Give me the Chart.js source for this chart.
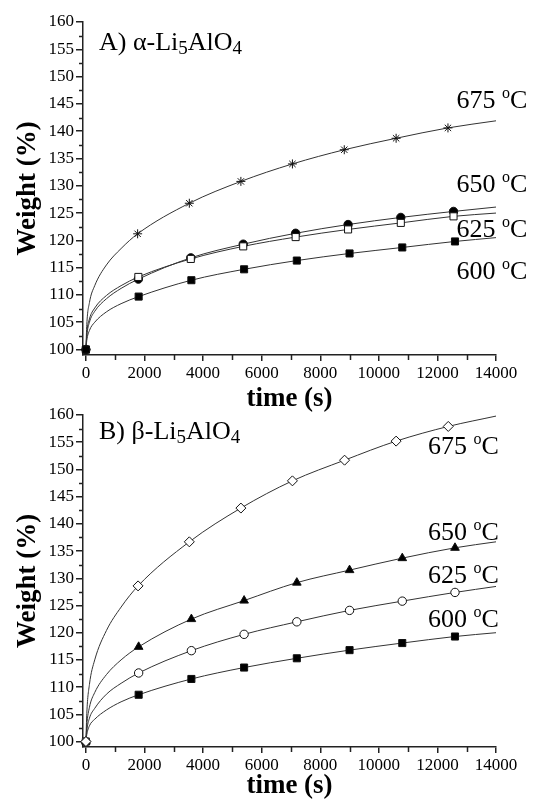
<!DOCTYPE html>
<html>
<head>
<meta charset="utf-8">
<title>Li5AlO4 weight vs time</title>
<script src="https://cdn.jsdelivr.net/npm/chart.js@4.4.1/dist/chart.umd.min.js"></script>
<style>
  html, body { margin: 0; padding: 0; background: #fff; }
  #wrap { position: relative; width: 539px; height: 802px; }
  canvas { position: absolute; left: 0; }
  #chartA { top: 0; }
  #chartB { top: 400px; }
</style>
</head>
<body>
<div id="wrap">
  <canvas id="chartA" width="539" height="420"></canvas>
  <canvas id="chartB" width="539" height="402"></canvas>
</div>
<script>
// =======================================
// DATA
// =======================================

// A) alpha-Li5AlO4 — measured points
const timeA675   = [0, 1765, 3530, 5290, 7050, 8820, 10590, 12360];
const weightA675 = [100, 121.2, 126.8, 130.8, 134.0, 136.6, 138.7, 140.6];
const timeA650   = [0, 1790, 3580, 5370, 7160, 8950, 10750, 12550];
const weightA650 = [100, 112.9, 116.8, 119.3, 121.3, 122.9, 124.2, 125.3];
const timeA625   = [0, 1790, 3580, 5370, 7160, 8950, 10750, 12550];
const weightA625 = [100, 113.3, 116.6, 118.9, 120.6, 122.0, 123.2, 124.4];
const timeA600   = [0, 1800, 3600, 5400, 7200, 9000, 10800, 12600];
const weightA600 = [100, 109.7, 112.7, 114.7, 116.3, 117.6, 118.7, 119.8];

// B) beta-Li5AlO4 — measured points
const timeB675   = [0, 1780, 3530, 5290, 7050, 8830, 10590, 12370];
const weightB675 = [100, 128.6, 136.7, 142.9, 147.9, 151.7, 155.2, 157.9];
const timeB650   = [0, 1800, 3600, 5400, 7200, 9000, 10800, 12600];
const weightB650 = [100, 117.4, 122.5, 125.9, 129.2, 131.5, 133.7, 135.6];
const timeB625   = [0, 1800, 3600, 5400, 7200, 9000, 10800, 12600];
const weightB625 = [100, 112.6, 116.7, 119.7, 122.0, 124.1, 125.8, 127.4];
const timeB600   = [0, 1800, 3600, 5400, 7200, 9000, 10800, 12600];
const weightB600 = [100, 108.6, 111.5, 113.6, 115.3, 116.8, 118.1, 119.3];

// fitted curves: early part (before first marker) and the value at 14000 s
const curveTime = [30, 120, 300, 700, 1200];
const curveEnd  = 14000;
const earlyA675 = [104.6, 108.6, 111.7, 115.5, 118.5];  const endA675 = 141.9;
const earlyA650 = [102.5, 105.0, 107.0, 109.3, 111.2];  const endA650 = 126.1;
const earlyA625 = [103.0, 105.6, 107.6, 109.9, 111.7];  const endA625 = 125.0;
const earlyA600 = [101.7, 103.5, 105.0, 106.9, 108.4];  const endA600 = 120.5;
const earlyB675 = [105.2, 110.5, 115.0, 120.4, 124.7];  const endB675 = 159.8;
const earlyB650 = [103.0, 106.3, 109.0, 112.3, 115.0];  const endB650 = 136.7;
const earlyB625 = [102.0, 104.3, 106.1, 108.7, 110.7];  const endB625 = 128.5;
const earlyB600 = [101.3, 102.9, 104.1, 105.8, 107.3];  const endB600 = 120.0;

// axis ticks
const xTicks = [0, 2000, 4000, 6000, 8000, 10000, 12000, 14000];
const yTicks = [100, 105, 110, 115, 120, 125, 130, 135, 140, 145, 150, 155, 160];

const tempLabels = ["675", "650", "625", "600"];

// =======================================
// HELPERS
// =======================================
const SERIF = "'Liberation Serif', 'DejaVu Serif', serif";

function points(xs, ys) {
  return xs.map((x, i) => ({ x, y: ys[i] }));
}

function curve(times, weights, early, end) {
  const pts = [{ x: times[0], y: weights[0] }];
  curveTime.forEach((t, i) => pts.push({ x: t, y: early[i] }));
  for (let i = 1; i < times.length; i++) pts.push({ x: times[i], y: weights[i] });
  pts.push({ x: curveEnd, y: end });
  return pts;
}

// draw text made of pieces with different sizes / vertical shifts
function drawRich(ctx, parts, x, y) {
  let cx = x;
  parts.forEach(p => {
    ctx.font = `${p.size}px ${SERIF}`;
    ctx.fillText(p.t, cx, y + (p.dy || 0));
    cx += ctx.measureText(p.t).width;
  });
}

function tempParts(t) {
  return [{ t: t + " ", size: 26 }, { t: "o", size: 16, dy: -10 }, { t: "C", size: 26 }];
}

// minor ticks (half way between major ones) + panel texts
const decorPlugin = {
  id: "decor",
  afterDraw(chart, args, opts) {
    const { ctx, chartArea } = chart;
    const xs = chart.scales.x, ys = chart.scales.y;
    ctx.save();
    ctx.strokeStyle = "#222";
    ctx.lineWidth = 1.5;
    ctx.beginPath();
    for (let i = 1; i < yTicks.length; i++) {
      const py = Math.round(ys.getPixelForValue((yTicks[i - 1] + yTicks[i]) / 2)) + 0.5;
      ctx.moveTo(chartArea.left - 4, py);
      ctx.lineTo(chartArea.left, py);
    }
    for (let i = 1; i < xTicks.length; i++) {
      const px = Math.round(xs.getPixelForValue((xTicks[i - 1] + xTicks[i]) / 2)) + 0.5;
      ctx.moveTo(px, chartArea.bottom);
      ctx.lineTo(px, chartArea.bottom + 5);
    }
    ctx.stroke();

    ctx.fillStyle = "#000";
    ctx.textBaseline = "alphabetic";
    ctx.textAlign = "left";
    drawRich(ctx, opts.title, opts.titleX, opts.titleY);
    opts.labels.forEach(l => {
      drawRich(ctx, tempParts(l.text), xs.getPixelForValue(l.x), ys.getPixelForValue(l.y));
    });
    ctx.restore();
  }
};

function lineSet(data) {
  return {
    data, showLine: true, pointRadius: 0, borderColor: "#333", borderWidth: 1,
    cubicInterpolationMode: "monotone", fill: false, order: 3
  };
}

function markerSet(data, style, radius, filled, order = 2) {
  return {
    data, showLine: false, pointStyle: style, pointRadius: radius,
    backgroundColor: filled ? "#000" : "#fff", borderColor: "#111",
    pointBorderWidth: 1, clip: false, order
  };
}

function makePanel(id, datasets, decor, axisHeight, titlePad) {
  return new Chart(document.getElementById(id), {
    type: "scatter",
    data: { datasets },
    plugins: [decorPlugin],
    options: {
      responsive: false,
      animation: false,
      layout: { padding: { top: decor.top, right: 43, left: 0, bottom: 0 } },
      plugins: { legend: { display: false }, tooltip: { enabled: false }, decor },
      scales: {
        x: {
          type: "linear", min: -100, max: 14000,
          afterBuildTicks: s => { s.ticks = xTicks.map(v => ({ value: v })); },
          afterFit: s => { s.height = axisHeight; },
          ticks: { autoSkip: false, maxRotation: 0, padding: 2,
                   callback: v => String(v),
                   color: "#000", font: { family: SERIF, size: 17 } },
          grid: { drawOnChartArea: false, tickLength: 6, color: "#222", lineWidth: 1.5 },
          border: { color: "#222", width: 1.5 },
          title: { display: true, text: "time (s)", color: "#000",
                   font: { family: SERIF, size: 27, weight: "bold" }, padding: { bottom: titlePad } }
        },
        y: {
          min: 99, max: 160,
          afterBuildTicks: s => { s.ticks = yTicks.map(v => ({ value: v })); },
          afterFit: s => { s.width = 83; },
          ticks: { padding: 2, autoSkip: false, callback: v => String(v),
                   color: "#000", font: { family: SERIF, size: 17 } },
          grid: { drawOnChartArea: false, tickLength: 7, color: "#222", lineWidth: 1.5 },
          border: { color: "#222", width: 1.5 },
          title: { display: true, text: "Weight (%)", color: "#000",
                   font: { family: SERIF, size: 27, weight: "bold" }, padding: { top: 12 } }
        }
      }
    }
  });
}

// =======================================
// PANEL A
// =======================================
makePanel("chartA", [
  lineSet(curve(timeA675, weightA675, earlyA675, endA675)),
  lineSet(curve(timeA650, weightA650, earlyA650, endA650)),
  lineSet(curve(timeA625, weightA625, earlyA625, endA625)),
  lineSet(curve(timeA600, weightA600, earlyA600, endA600)),
  markerSet(points(timeA675, weightA675), "star", 4.5, false),
  markerSet(points(timeA625, weightA625), "rect", 5, false),
  markerSet(points(timeA650, weightA650), "circle", 4.2, true),
  markerSet(points(timeA600, weightA600), "rect", 5, true, 1)
], {
  top: 22,
  title: [{ t: "A) \u03b1-Li", size: 26 }, { t: "5", size: 19, dy: 4 },
          { t: "AlO", size: 26 }, { t: "4", size: 19, dy: 4 }],
  titleX: 99, titleY: 50,
  labels: [
    { text: tempLabels[0], x: 12650, y: 144.3 },
    { text: tempLabels[1], x: 12650, y: 128.9 },
    { text: tempLabels[2], x: 12650, y: 120.7 },
    { text: tempLabels[3], x: 12650, y: 113.0 }
  ]
}, 65, 5);

// =======================================
// PANEL B
// =======================================
makePanel("chartB", [
  lineSet(curve(timeB675, weightB675, earlyB675, endB675)),
  lineSet(curve(timeB650, weightB650, earlyB650, endB650)),
  lineSet(curve(timeB625, weightB625, earlyB625, endB625)),
  lineSet(curve(timeB600, weightB600, earlyB600, endB600)),
  markerSet(points(timeB675, weightB675), "rectRot", 5, false, 1),
  markerSet(points(timeB650, weightB650), "triangle", 5, true),
  markerSet(points(timeB625, weightB625), "circle", 4.2, false),
  markerSet(points(timeB600, weightB600), "rect", 5, true)
], {
  top: 15,
  title: [{ t: "B) \u03b2-Li", size: 26 }, { t: "5", size: 19, dy: 4 },
          { t: "AlO", size: 26 }, { t: "4", size: 19, dy: 4 }],
  titleX: 99, titleY: 39,
  labels: [
    { text: tempLabels[0], x: 11680, y: 152.8 },
    { text: tempLabels[1], x: 11680, y: 137.0 },
    { text: tempLabels[2], x: 11680, y: 129.1 },
    { text: tempLabels[3], x: 11680, y: 121.1 }
  ]
}, 55, 0);
</script>
</body>
</html>
